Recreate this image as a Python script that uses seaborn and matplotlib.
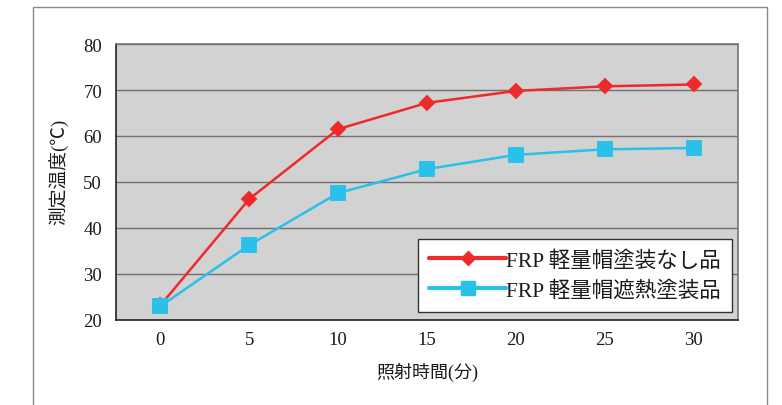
import matplotlib
matplotlib.use("Agg")
import matplotlib.pyplot as plt
import seaborn as sns
import pandas as pd
from matplotlib.lines import Line2D
from matplotlib.patches import Rectangle

# ---- data ----
times = ["0", "5", "10", "15", "20", "25", "30"]
uncoated = [23.2, 46.3, 61.5, 67.2, 69.8, 70.8, 71.2]
heat_shield = [23.0, 36.3, 47.6, 52.8, 55.9, 57.1, 57.4]
series_names = ["FRP 軽量帽塗装なし品", "FRP 軽量帽遮熱塗装品"]
y_ticks = [20, 30, 40, 50, 60, 70, 80]
x_label = "照射時間(分)"
y_label = "測定温度(℃)"

red = "#EE2A2A"
cyan = "#29C0EA"

sns.set_theme(style="white")
plt.rcParams["font.family"] = ["Liberation Serif", "Noto Sans CJK JP", "DejaVu Sans"]

df = pd.DataFrame({
    "time": times * 2,
    "temp": uncoated + heat_shield,
    "series": [series_names[0]] * len(times) + [series_names[1]] * len(times),
})

fig = plt.figure(figsize=(7.82, 4.06), dpi=100)
ax = fig.add_axes([116 / 782, 1 - 321 / 406, (738 - 116) / 782, (321 - 45) / 406])

# outer frame
fig.patches.append(Rectangle((33 / 782, -0.1), (767 - 33) / 782, 1.1 - 7.5 / 406,
                             transform=fig.transFigure, fill=False,
                             edgecolor="#8a8a8a", linewidth=1.0, zorder=0))

sns.pointplot(data=df, x="time", y="temp", hue="series", order=times,
              hue_order=series_names, palette=[red, cyan],
              markers=["D", "s"], linestyles=["-", "-"], errorbar=None,
              legend=False, ax=ax, markersize=8, linewidth=1.8)

for ln in ax.get_lines():
    if ln.get_marker() == "D":
        ln.set_markersize(7)
    elif ln.get_marker() == "s":
        ln.set_markersize(9.5)

ax.set_facecolor("#D2D2D2")
ax.set_xlim(-0.5, len(times) - 0.5)
ax.set_ylim(20, 80)
ax.set_yticks(y_ticks)
ax.yaxis.grid(True, color="#707070", linewidth=1.0)
ax.set_axisbelow(True)
ax.tick_params(axis="y", length=0, labelsize=13.5, pad=10, colors="#1a1a1a")
ax.tick_params(axis="x", which="major", length=0, labelsize=13.5, pad=8, colors="#1a1a1a")
ax.set_xticks([i + 0.5 for i in range(len(times) - 1)], minor=True)
ax.tick_params(axis="x", which="minor", direction="in", length=6, color="#555555", width=1)

for side in ["left", "bottom"]:
    ax.spines[side].set_color("#222222")
    ax.spines[side].set_linewidth(1.2)
for side in ["top", "right"]:
    ax.spines[side].set_color("#777777")
    ax.spines[side].set_linewidth(1.2)

ax.set_xlabel(x_label, fontsize=13, labelpad=10, color="#1a1a1a")
ax.set_ylabel(y_label, fontsize=13.5, labelpad=8, color="#1a1a1a")
ax.yaxis.set_label_coords(-0.077, 0.54)

handles = [
    Line2D([], [], color=red, marker="D", markersize=7, linewidth=3),
    Line2D([], [], color=cyan, marker="s", markersize=9.5, linewidth=3),
]
leg = ax.legend(handles, series_names, loc="lower right", bbox_to_anchor=(0.99, 0.03),
                fontsize=15.5, frameon=True, fancybox=False, framealpha=1,
                edgecolor="#333333", handlelength=3.6, handletextpad=0.0,
                borderpad=0.5, labelspacing=0.45, borderaxespad=0.0)
leg.get_frame().set_linewidth(1.0)
for t in leg.get_texts():
    t.set_color("#1a1a1a")

fig.savefig("out.png", dpi=100)
